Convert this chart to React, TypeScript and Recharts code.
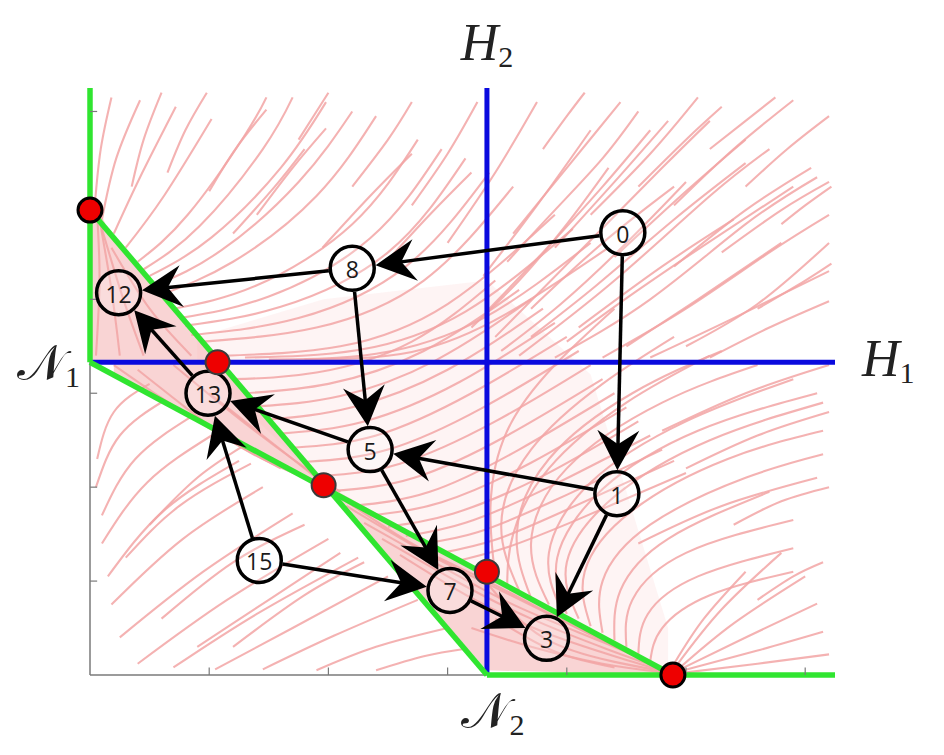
import React from 'react';
import { ComposedChart, Line, Area, Scatter, XAxis, YAxis, ReferenceLine } from 'recharts';

type Pt = [number, number];

// level of the two hyperplanes H1 / H2 (same units as the axes)
const H = 3.33;
const X_MAX = 6.25;
const Y_MAX = 6.25;

const xTicks = [1, 2, 3, 4, 5, 6];
const yTicks = [1, 2, 3, 4, 5, 6];

// green boundary of the feasible region
const wallEdge: Pt[] = [[0, Y_MAX], [0, H]];
const faceA: Pt[] = [[0, H], [4.89, 0]];
const faceB: Pt[] = [[0, 4.95], [H, 0]];
const floorEdge: Pt[] = [[H, 0], [X_MAX, 0]];

const nodes = [
  { id: '0', x: 4.47, y: 4.71 },
  { id: '8', x: 2.2, y: 4.33 },
  { id: '12', x: 0.24, y: 4.07 },
  { id: '13', x: 0.99, y: 3.0 },
  { id: '5', x: 2.35, y: 2.4 },
  { id: '1', x: 4.42, y: 1.93 },
  { id: '15', x: 1.42, y: 1.22 },
  { id: '7', x: 3.02, y: 0.9 },
  { id: '3', x: 3.83, y: 0.39 },
];

const edges: [string, string][] = [
  ['0', '8'], ['0', '1'], ['8', '12'], ['8', '5'], ['1', '5'], ['1', '3'],
  ['5', '13'], ['5', '7'], ['13', '12'], ['15', '13'], ['15', '7'], ['7', '3'],
];

const cornerDots = [{ x: 0, y: 4.95 }, { x: 4.89, y: 0 }];
const crossDots = [{ x: 1.07, y: 3.33 }, { x: 1.96, y: 2.02 }, { x: 3.33, y: 1.1 }];

// dense pink zones [low, high]
const wallZone = [
  { x: 0, band: [H, 5.15] },
  { x: 0.15, band: [H, 4.75] },
  { x: 1.07, band: [H, H] },
];
const upperBand = [
  { x: 0.2, band: [3.19, H] },
  { x: 1.07, band: [2.6, H] },
  { x: 1.96, band: [2.0, 2.04] },
];
const lowerBand = [
  { x: 1.96, band: [2.0, 2.04] },
  { x: 3.33, band: [0.05, 1.06] },
  { x: 4.89, band: [0, 0] },
];
const hazeZone = [
  { x: 0.9, band: [H, 3.6] },
  { x: 1.96, band: [2.02, 4.0] },
  { x: 3.33, band: [1.06, 4.2] },
  { x: 4.2, band: [0.45, 3.2] },
  { x: 4.85, band: [0.03, 0.5] },
];

// streamlines
const flowUpperLeft: Pt[][] = [
  [[0.04, 5.0], [0.09, 5.6], [0.18, 6.15]],
  [[0.1, 4.85], [0.22, 5.5], [0.42, 6.12]],
  [[0.2, 4.7], [0.42, 5.3], [0.72, 6.05]],
  [[0.3, 4.55], [0.62, 5.1], [1.02, 5.92]],
  [[0.4, 4.4], [0.82, 4.9], [1.3, 5.75], [1.48, 6.15]],
  [[0.5, 4.25], [1.02, 4.66], [1.6, 5.4], [1.98, 6.1]],
  [[0.6, 4.05], [1.2, 4.4], [1.9, 5.1], [2.4, 5.95]],
  [[0.7, 3.9], [1.4, 4.15], [2.2, 4.8], [2.75, 5.7]],
  [[0.8, 3.72], [1.6, 3.92], [2.5, 4.5], [3.15, 5.5]],
  [[0.95, 3.55], [1.9, 3.7], [2.8, 4.2], [3.55, 5.2]],
  [[1.1, 3.4], [2.1, 3.5], [3.0, 3.95], [3.9, 4.9]],
  [[1.5, 3.36], [2.4, 3.42], [3.3, 3.8], [4.2, 4.6]],
  [[0.65, 5.35], [0.8, 5.8], [0.98, 6.2]],
  [[1.0, 5.15], [1.22, 5.6], [1.48, 6.02]],
  [[1.4, 4.9], [1.7, 5.4], [1.98, 5.82]],
  [[1.95, 4.55], [2.35, 5.1], [2.7, 5.55]],
  [[2.45, 4.35], [2.85, 4.9], [3.2, 5.35]],
  [[1.2, 4.7], [1.55, 5.2], [1.8, 5.6]],
  [[0.35, 5.2], [0.45, 5.7], [0.6, 6.2]],
  [[2.2, 5.2], [2.5, 5.7], [2.7, 6.1]],
  [[2.7, 5.0], [3.0, 5.55], [3.25, 6.1]],
  [[1.75, 5.7], [1.9, 6.0], [2.0, 6.2]],
  [[0.85, 3.62], [1.75, 3.8], [2.65, 4.35], [3.35, 5.35]],
  [[1.3, 3.38], [2.25, 3.46], [3.15, 3.87], [4.05, 4.75]],
  [[0.75, 3.8], [1.5, 4.03], [2.35, 4.65], [2.95, 5.6]],
  [[0.55, 4.15], [1.1, 4.52], [1.75, 5.25], [2.2, 6.0]],
  [[1.8, 3.36], [2.7, 3.44], [3.5, 3.85], [4.35, 4.55]],
  [[0.45, 4.32], [0.92, 4.78], [1.45, 5.6], [1.7, 6.15]],
];

const flowUpperRight: Pt[][] = [
  [[3.3, 4.25], [3.75, 5.0], [4.2, 5.8]],
  [[3.4, 3.6], [4.1, 4.5], [4.8, 5.4], [5.2, 5.9]],
  [[3.6, 3.4], [4.4, 4.2], [5.2, 5.1], [5.7, 5.6]],
  [[3.9, 3.38], [4.7, 4.0], [5.5, 4.8], [6.1, 5.3]],
  [[4.3, 3.38], [5.0, 3.9], [5.7, 4.5], [6.2, 4.9]],
  [[4.7, 3.38], [5.4, 3.8], [6.2, 4.3]],
  [[5.2, 3.38], [5.7, 3.7], [6.2, 3.98]],
  [[3.55, 4.7], [4.0, 5.4], [4.45, 6.1]],
  [[3.9, 4.55], [4.4, 5.25], [4.85, 5.9]],
  [[4.4, 4.45], [5.0, 5.15], [5.5, 5.7]],
  [[4.9, 4.35], [5.5, 4.95], [6.05, 5.4]],
  [[3.0, 4.6], [3.4, 5.35], [3.75, 6.1]],
  [[4.6, 5.2], [5.0, 5.7], [5.3, 6.05]],
  [[5.3, 4.5], [5.8, 4.95], [6.2, 5.25]],
  [[3.7, 3.9], [4.3, 4.6], [4.9, 5.2]],
  [[4.1, 3.7], [4.8, 4.35], [5.4, 4.85]],
  [[5.6, 3.9], [6.0, 4.2], [6.22, 4.38]],
  [[4.2, 4.9], [4.7, 5.55], [5.1, 6.15]],
  [[4.9, 5.0], [5.4, 5.6], [5.9, 6.12]],
  [[5.5, 5.2], [5.85, 5.6], [6.2, 5.95]],
  [[3.35, 3.9], [3.8, 4.5], [4.3, 5.2], [4.7, 5.8]],
  [[3.45, 3.45], [3.95, 3.95], [4.5, 4.6], [5.0, 5.25]],
  [[3.7, 3.6], [4.25, 4.15], [4.9, 4.85], [5.5, 5.45]],
  [[4.0, 3.55], [4.6, 4.1], [5.3, 4.7], [5.9, 5.2]],
  [[4.5, 3.5], [5.1, 4.0], [5.8, 4.6]],
  [[3.5, 4.4], [3.9, 4.95], [4.3, 5.5], [4.6, 6.0]],
  [[3.2, 3.7], [3.6, 4.2], [4.0, 4.8], [4.35, 5.4]],
  [[5.0, 3.5], [5.6, 3.95], [6.2, 4.6]],
  [[3.8, 5.6], [4.0, 5.95], [4.15, 6.2]],
  [[5.2, 5.6], [5.5, 5.9], [5.75, 6.15]],
  [[5.8, 4.8], [6.0, 5.0], [6.22, 5.2]],
];

const flowLowerRight: Pt[][] = [
  [[4.7, 0.15], [4.8, 0.5], [5.2, 0.85], [5.9, 1.1]],
  [[4.5, 0.3], [4.55, 0.8], [5.0, 1.3], [5.9, 1.65]],
  [[4.3, 0.45], [4.3, 1.0], [4.7, 1.6], [5.5, 2.1], [6.15, 2.35]],
  [[4.1, 0.6], [4.0, 1.2], [4.4, 1.9], [5.2, 2.5], [6.15, 2.9]],
  [[3.85, 0.75], [3.7, 1.4], [4.0, 2.2], [4.8, 2.9], [5.6, 3.3]],
  [[3.6, 0.9], [3.45, 1.6], [3.7, 2.4], [4.3, 3.1], [4.9, 3.6]],
  [[3.4, 1.05], [3.36, 1.8], [3.5, 2.6], [3.9, 3.3], [4.4, 3.9]],
  [[3.5, 0.97], [3.55, 1.5], [3.85, 2.2], [4.5, 2.9], [5.2, 3.4]],
  [[3.95, 0.7], [3.85, 1.3], [4.2, 2.05], [5.0, 2.7], [5.9, 3.15]],
  [[4.4, 0.37], [4.45, 0.9], [4.85, 1.45], [5.7, 1.95]],
  [[3.7, 0.82], [3.58, 1.5], [3.85, 2.3], [4.55, 3.0], [5.3, 3.45]],
  [[4.2, 0.52], [4.15, 1.1], [4.55, 1.75], [5.35, 2.3], [6.15, 2.6]],
  [[4.6, 0.22], [4.68, 0.65], [5.1, 1.05], [5.9, 1.35]],
  [[4.0, 0.65], [3.92, 1.25], [4.3, 1.98], [5.1, 2.6], [6.1, 3.0]],
  [[4.95, 0.02], [5.6, 0.12], [6.2, 0.22]],
  [[4.95, 0.04], [5.6, 0.26], [6.15, 0.46]],
  [[4.95, 0.06], [5.5, 0.4], [6.1, 0.76]],
  [[4.95, 0.08], [5.4, 0.55], [6.0, 1.05]],
  [[4.92, 0.1], [5.3, 0.7], [5.8, 1.3]],
  [[4.9, 0.12], [5.15, 0.6], [5.5, 1.1]],
  [[4.6, 1.4], [5.3, 1.8], [6.1, 2.1]],
  [[5.0, 2.2], [5.6, 2.55], [6.2, 2.8]],
  [[4.8, 2.6], [5.5, 3.0], [6.2, 3.3]],
  [[5.4, 1.6], [5.8, 1.85], [6.2, 2.0]],
  [[5.6, 0.8], [5.9, 1.05], [6.15, 1.2]],
];

const flowLowerLeft: Pt[][] = [
  [[0.06, 2.3], [0.2, 2.8], [0.5, 3.1]],
  [[0.05, 2.0], [0.25, 2.55], [0.62, 2.92]],
  [[0.1, 1.7], [0.38, 2.3], [0.85, 2.75]],
  [[0.1, 1.4], [0.48, 2.05], [1.02, 2.55]],
  [[0.15, 1.05], [0.62, 1.75], [1.25, 2.28]],
  [[0.18, 0.75], [0.78, 1.45], [1.45, 2.0]],
  [[0.25, 0.4], [0.95, 1.1], [1.7, 1.72]],
  [[0.4, 0.12], [1.15, 0.8], [2.0, 1.45]],
  [[0.7, 0.08], [1.4, 0.65], [2.25, 1.25]],
  [[1.05, 0.06], [1.7, 0.5], [2.5, 1.05]],
  [[1.45, 0.06], [2.05, 0.42], [2.75, 0.8]],
  [[1.9, 0.05], [2.4, 0.3], [3.0, 0.5]],
  [[2.4, 0.05], [2.8, 0.2], [3.15, 0.28]],
  [[0.5, 1.6], [0.9, 2.1], [1.3, 2.45]],
  [[0.6, 0.6], [1.2, 1.2], [1.8, 1.6]],
  [[1.2, 0.3], [1.8, 0.85], [2.3, 1.2]],
  [[0.3, 1.25], [0.75, 1.8], [1.35, 2.25]],
  [[0.9, 0.3], [1.5, 0.8], [2.1, 1.3]],
];

const flowBand: Pt[][] = [
  [[1.3, 3.0], [2.0, 3.1], [2.8, 3.45], [3.6, 4.1]],
  [[1.5, 2.72], [2.2, 2.85], [3.0, 3.25], [3.8, 3.9]],
  [[1.7, 2.42], [2.4, 2.55], [3.2, 3.0], [4.0, 3.6]],
  [[1.95, 2.12], [2.6, 2.25], [3.4, 2.7], [4.2, 3.3]],
  [[2.2, 1.8], [2.85, 1.95], [3.6, 2.4], [4.4, 3.0]],
  [[2.5, 1.58], [3.05, 1.72], [3.8, 2.12], [4.6, 2.7]],
  [[2.8, 1.4], [3.25, 1.52], [3.9, 1.86], [4.8, 2.4]],
  [[3.1, 1.22], [3.5, 1.36], [4.1, 1.66], [5.0, 2.15]],
  [[1.2, 3.15], [1.9, 3.22], [2.7, 3.55], [3.4, 4.2]],
  [[1.4, 2.86], [2.1, 2.97], [2.9, 3.35], [3.7, 4.0]],
  [[1.6, 2.57], [2.3, 2.7], [3.1, 3.12], [3.9, 3.75]],
  [[1.82, 2.27], [2.5, 2.4], [3.3, 2.85], [4.1, 3.45]],
  [[2.05, 1.96], [2.72, 2.1], [3.5, 2.55], [4.3, 3.15]],
  [[2.35, 1.7], [2.95, 1.84], [3.7, 2.26], [4.5, 2.85]],
  [[2.65, 1.48], [3.15, 1.62], [3.85, 2.0], [4.7, 2.55]],
  [[2.95, 1.3], [3.4, 1.44], [4.0, 1.76], [4.9, 2.28]],
  [[1.0, 3.0], [1.5, 2.5], [1.96, 2.04]],
  [[0.4, 3.25], [0.8, 2.85], [1.3, 2.4], [1.8, 2.1]],
  [[0.7, 3.3], [1.2, 2.78], [1.7, 2.3], [2.1, 1.95]],
  [[0.2, 3.3], [0.6, 2.95], [1.1, 2.55], [1.6, 2.2]],
  [[2.0, 1.98], [2.7, 1.4], [3.3, 1.02], [4.0, 0.56], [4.86, 0.03]],
  [[2.15, 1.8], [2.85, 1.28], [3.45, 0.9], [4.15, 0.46], [4.88, 0.02]],
  [[2.3, 1.62], [3.0, 1.12], [3.6, 0.72], [4.3, 0.35], [4.9, 0.02]],
  [[2.45, 1.45], [3.1, 0.98], [3.7, 0.6], [4.35, 0.27], [4.9, 0.02]],
  [[2.6, 1.28], [3.2, 0.82], [3.8, 0.46], [4.4, 0.2], [4.9, 0.01]],
  [[3.35, 0.95], [3.8, 0.4], [4.4, 0.14], [4.9, 0.02]],
  [[3.4, 0.6], [3.9, 0.25], [4.4, 0.08]],
  [[3.2, 0.5], [3.7, 0.3], [4.3, 0.12], [4.8, 0.03]],
  [[0.05, 3.4], [0.08, 4.2], [0.06, 4.9]],
  [[0.45, 3.4], [0.28, 4.0], [0.1, 4.75]],
  [[0.85, 3.4], [0.5, 3.9], [0.18, 4.55]],
  [[0.25, 3.4], [0.18, 4.1], [0.08, 4.85]],
];

const streamlines = [...flowUpperLeft, ...flowUpperRight, ...flowLowerRight, ...flowLowerLeft, ...flowBand];

const toRows = (pts: Pt[]) => pts.map(([x, y]) => ({ x, y }));
const nodeById = (id: string) => nodes.find(n => n.id === id)!;

const NODE_R = 22;
const SERIF = 'Liberation Serif, DejaVu Serif, serif';
const PINK = '#f2a4a4';
const GREEN = '#30e530';
const BLUE = '#0a0ade';
const AXIS_GREY = '#7a7a7a';

// arrow drawn in pixel space between the two scaled node centres
const renderArrow = (p: any) => {
  const pts = p.points;
  if (p.index !== 1 || !pts || pts.length < 2) return <g key={p.key} />;
  const a = pts[0];
  const b = pts[1];
  const dx = b.x - a.x;
  const dy = b.y - a.y;
  const len = Math.hypot(dx, dy) || 1;
  const ux = dx / len;
  const uy = dy / len;
  const nx = -uy;
  const ny = ux;
  const gap = NODE_R + 1.5;
  const sx = a.x + ux * gap;
  const sy = a.y + uy * gap;
  const tx = b.x - ux * gap;
  const ty = b.y - uy * gap;
  const headL = 40;
  const headW = 21;
  const notch = 26;
  const bx = tx - ux * headL;
  const by = ty - uy * headL;
  const mx = tx - ux * notch;
  const my = ty - uy * notch;
  const head = `${tx},${ty} ${bx + nx * headW},${by + ny * headW} ${mx},${my} ${bx - nx * headW},${by - ny * headW}`;
  return (
    <g key={p.key}>
      <line x1={sx} y1={sy} x2={mx + ux * 2} y2={my + uy * 2} stroke="#000" strokeWidth={3.5} />
      <polygon points={head} fill="#000" />
    </g>
  );
};

const renderNode = (p: any) => (
  <g>
    <circle cx={p.cx} cy={p.cy} r={NODE_R} fill="#fff" fillOpacity={0.2} stroke="#000" strokeWidth={3.5} />
    <text x={p.cx} y={p.cy + 1} textAnchor="middle" dominantBaseline="central"
      fontFamily="Open Sans, Noto Sans, sans-serif" fontSize={23} fill="#1a1a1a">
      {p.payload.id}
    </text>
  </g>
);

const renderDot = (stroke: string, width: number) => (p: any) => (
  <circle cx={p.cx} cy={p.cy} r={12} fill="#ee0000" stroke={stroke} strokeWidth={width} />
);

const MathTag = (props: any) => {
  const { viewBox, place, main, sub, script } = props;
  if (!viewBox) return null;
  const { x, y, width, height } = viewBox;
  let tx = x;
  let ty = y;
  let anchor: 'start' | 'middle' | 'end' = 'middle';
  if (place === 'top') { tx = x; ty = y - 28; }
  else if (place === 'bottom') { tx = x + 6; ty = y + height + 53; }
  else if (place === 'left') { tx = x - 10; ty = y + 18; anchor = 'end'; }
  else { tx = x + width + 27; ty = y + 14; anchor = 'start'; }
  return (
    <text x={tx} y={ty} textAnchor={anchor} fill="#222">
      <tspan fontFamily={script ? 'DejaVu Serif, DejaVu Sans, serif' : SERIF}
        fontStyle={script ? 'normal' : 'italic'} fontSize={script ? 50 : 52}>{main}</tspan>
      <tspan fontFamily={SERIF} fontSize={30} dy={7}>{sub}</tspan>
    </text>
  );
};

const App: React.FC = () => {
  return (
    <div style={{ position: 'absolute', left: 0, top: 0, width: 944, height: 755, background: '#fff' }}>
      <ComposedChart width={944} height={755} margin={{ top: 88, right: 109, bottom: 80, left: 90 }}>
        <XAxis type="number" dataKey="x" domain={[0, X_MAX]} hide />
        <YAxis type="number" dataKey="y" domain={[0, Y_MAX]} hide />

        {/* plain axes */}
        <ReferenceLine segment={[{ x: 0, y: 0 }, { x: 0, y: Y_MAX }]} stroke={AXIS_GREY} strokeWidth={1.5} />
        <ReferenceLine segment={[{ x: 0, y: 0 }, { x: X_MAX, y: 0 }]} stroke={AXIS_GREY} strokeWidth={1.5} />

        <Area data={hazeZone} dataKey="band" type="linear" stroke="none"
          fill="#f6bcbc" fillOpacity={0.16} isAnimationActive={false} />
        {[wallZone, upperBand, lowerBand].map((zone, i) => (
          <Area key={`zone-${i}`} data={zone} dataKey="band" type="linear" stroke="none"
            fill="#f4b0b0" fillOpacity={0.55} isAnimationActive={false} />
        ))}

        {streamlines.map((pts, i) => (
          <Line key={`flow-${i}`} data={toRows(pts)} dataKey="y" type="natural" stroke={PINK}
            strokeOpacity={0.85} strokeWidth={2.1} dot={false} activeDot={false} isAnimationActive={false} />
        ))}

        {/* hyperplanes */}
        <ReferenceLine x={H} stroke={BLUE} strokeWidth={5}
          label={<MathTag place="top" main="H" sub="2" />} />
        <ReferenceLine x={H} stroke="none"
          label={<MathTag place="bottom" main={'\u{1D4A9}'} sub="2" script />} />
        <ReferenceLine y={H} stroke={BLUE} strokeWidth={5}
          label={<MathTag place="right" main="H" sub="1" />} />
        <ReferenceLine y={H} stroke="none"
          label={<MathTag place="left" main={'\u{1D4A9}'} sub="1" script />} />

        {[wallEdge, faceA, faceB, floorEdge].map((pts, i) => (
          <Line key={`edge-${i}`} data={toRows(pts)} dataKey="y" type="linear" stroke={GREEN}
            strokeWidth={5.5} dot={false} activeDot={false} isAnimationActive={false} />
        ))}

        {xTicks.map(t => (
          <ReferenceLine key={`xt-${t}`} segment={[{ x: t, y: 0 }, { x: t, y: 0.08 }]} stroke={AXIS_GREY} strokeWidth={1.2} />
        ))}
        {yTicks.map(t => (
          <ReferenceLine key={`yt-${t}`} segment={[{ x: 0, y: t }, { x: 0.06, y: t }]} stroke={AXIS_GREY} strokeWidth={1.2} />
        ))}

        {edges.map(([s, t]) => {
          const a = nodeById(s);
          const b = nodeById(t);
          return (
            <Line key={`arrow-${s}-${t}`} data={[{ x: a.x, y: a.y }, { x: b.x, y: b.y }]} dataKey="y"
              type="linear" stroke="none" dot={renderArrow} activeDot={false} isAnimationActive={false} />
          );
        })}

        <Scatter data={nodes} shape={renderNode} isAnimationActive={false} />
        <Scatter data={crossDots} shape={renderDot('#3a3a3a', 2)} isAnimationActive={false} />
        <Scatter data={cornerDots} shape={renderDot('#000', 3)} isAnimationActive={false} />
      </ComposedChart>
    </div>
  );
};

export default App;
